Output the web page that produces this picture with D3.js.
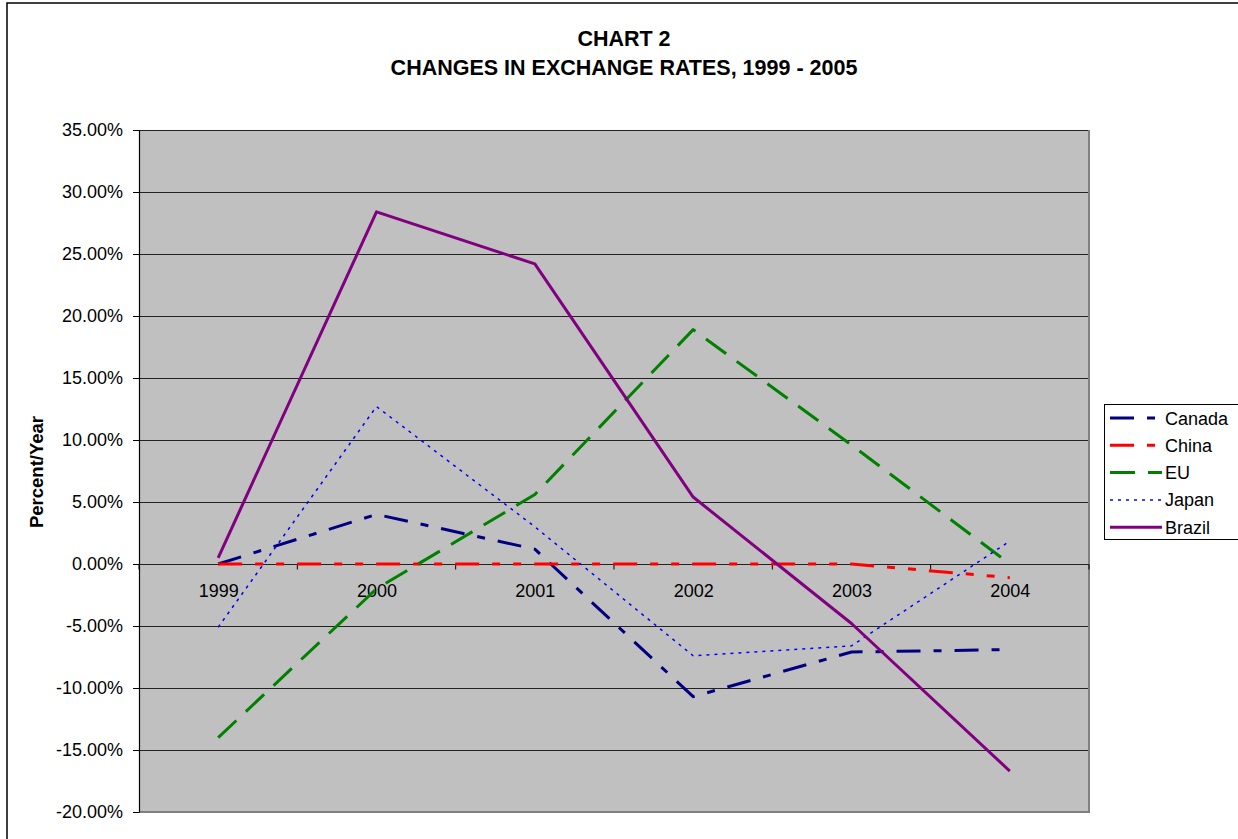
<!DOCTYPE html>
<html>
<head>
<meta charset="utf-8">
<script src="https://cdn.jsdelivr.net/npm/d3@7"></script>
<style>
  body { margin: 0; background: #fff; }
  svg text { font-family: "Liberation Sans", Arial, sans-serif; }
</style>
</head>
<body>
<svg id="chart"></svg>
<script>
var years = ["1999", "2000", "2001", "2002", "2003", "2004"];
var canada = [0.000, 0.040, 0.012, -0.107, -0.071, -0.069];
var china = [0.000, 0.000, 0.000, 0.000, 0.000, -0.011];
var eu = [-0.140, -0.020, 0.056, 0.189, 0.096, 0.000];
var japan = [-0.051, 0.127, 0.030, -0.074, -0.066, 0.0185];
var brazil = [0.005, 0.284, 0.242, 0.054, -0.048, -0.167];
var yTicks = [-0.20, -0.15, -0.10, -0.05, 0, 0.05, 0.10, 0.15, 0.20, 0.25, 0.30, 0.35];

var series = [
  {name: "Canada", values: canada, color: "#000080", width: 3, dash: "24,13,8,13"},
  {name: "China", values: china, color: "#FF0000", width: 3, dash: "24,13,8,13,8,13"},
  {name: "EU", values: eu, color: "#008000", width: 3, dash: "25,13"},
  {name: "Japan", values: japan, color: "#0000FF", width: 1.5, dash: "3,5"},
  {name: "Brazil", values: brazil, color: "#800080", width: 3, dash: null}
];

var screen = {width: 1238, height: 839};
var plotBox = {left: 139, right: 1089, top: 130, bottom: 812};

var svg = d3.select("#chart")
            .attr("width", screen.width)
            .attr("height", screen.height);

// outer chart border
svg.append("rect")
   .attr("x", 7).attr("y", 3)
   .attr("width", 1250).attr("height", 860)
   .attr("fill", "#fff")
   .attr("stroke", "#000")
   .attr("stroke-width", 1.5);

var xBand = d3.scaleBand()
              .domain(years)
              .range([plotBox.left, plotBox.right]);
var xScale = d3.scalePoint()
               .domain(years)
               .range([plotBox.left, plotBox.right])
               .padding(0.5);
var yScale = d3.scaleLinear()
               .domain([-0.20, 0.35])
               .range([plotBox.bottom, plotBox.top]);

// plot area
svg.append("rect")
   .attr("x", plotBox.left).attr("y", plotBox.top)
   .attr("width", plotBox.right - plotBox.left)
   .attr("height", plotBox.bottom - plotBox.top)
   .attr("fill", "#C0C0C0");

// gridlines
svg.append("g")
   .selectAll("line")
   .data(yTicks)
   .enter()
   .append("line")
   .attr("x1", plotBox.left).attr("x2", plotBox.right)
   .attr("y1", function(d){ return Math.round(yScale(d)) + 0.5; })
   .attr("y2", function(d){ return Math.round(yScale(d)) + 0.5; })
   .attr("stroke", "#222")
   .attr("stroke-width", 1.2);

// gray frame right / bottom
svg.append("path")
   .attr("d", "M" + plotBox.right + "," + plotBox.top + "V" + plotBox.bottom + "H" + plotBox.left)
   .attr("fill", "none")
   .attr("stroke", "#808080")
   .attr("stroke-width", 2);

// y axis (plain hyphen for negatives, like the original)
var pct = d3.formatLocale({decimal: ".", thousands: ",", grouping: [3], currency: ["$", ""], minus: "-"}).format(".2%");
var yAxis = d3.axisLeft(yScale)
              .tickValues(yTicks)
              .tickFormat(pct)
              .tickSize(6)
              .tickSizeOuter(0);
var gy = svg.append("g")
   .attr("transform", "translate(" + plotBox.left + ",0)")
   .call(yAxis);
gy.select(".domain").attr("stroke", "#000").attr("stroke-width", 1.2);
gy.selectAll(".tick line").attr("stroke", "#000");
gy.selectAll(".tick text")
  .attr("x", -16)
  .attr("font-size", 18)
  .attr("fill", "#000");

// x axis on the zero line
var y0 = Math.round(yScale(0)) + 0.5;
svg.append("line")
   .attr("x1", plotBox.left).attr("x2", plotBox.right)
   .attr("y1", y0).attr("y2", y0)
   .attr("stroke", "#222")
   .attr("stroke-width", 1.2);
var boundaries = years.map(function(d){ return xBand(d); }).concat([plotBox.right]);
svg.append("g")
   .selectAll("line")
   .data(boundaries)
   .enter()
   .append("line")
   .attr("x1", function(d){ return d; })
   .attr("x2", function(d){ return d; })
   .attr("y1", y0).attr("y2", y0 + 5)
   .attr("stroke", "#000");

var xAxis = d3.axisBottom(xScale).tickSize(0);
var gx = svg.append("g")
   .attr("transform", "translate(0," + y0 + ")")
   .call(xAxis);
gx.select(".domain").remove();
gx.selectAll(".tick text")
  .attr("y", 20)
  .attr("font-size", 18)
  .attr("fill", "#000");

// series lines
var line = d3.line()
             .x(function(d, i){ return xScale(years[i]); })
             .y(function(d){ return yScale(d); });

svg.append("g")
   .selectAll("path")
   .data(series)
   .enter()
   .append("path")
   .attr("d", function(s){ return line(s.values); })
   .attr("fill", "none")
   .attr("stroke", function(s){ return s.color; })
   .attr("stroke-width", function(s){ return s.width; })
   .attr("stroke-dasharray", function(s){ return s.dash; })
   .attr("stroke-linejoin", "round");

// titles
svg.append("text")
   .attr("x", 624).attr("y", 46)
   .attr("text-anchor", "middle")
   .attr("font-size", 21.5)
   .attr("font-weight", "bold")
   .text("CHART 2");
svg.append("text")
   .attr("x", 624).attr("y", 74.5)
   .attr("text-anchor", "middle")
   .attr("font-size", 21.5)
   .attr("font-weight", "bold")
   .text("CHANGES IN EXCHANGE RATES, 1999 - 2005");

svg.append("text")
   .attr("transform", "translate(43,472) rotate(-90)")
   .attr("text-anchor", "middle")
   .attr("font-size", 18.5)
   .attr("font-weight", "bold")
   .text("Percent/Year");

// legend
var legend = svg.append("g");
legend.append("rect")
      .attr("x", 1104.5).attr("y", 404.5)
      .attr("width", 140).attr("height", 135)
      .attr("fill", "#fff")
      .attr("stroke", "#000")
      .attr("stroke-width", 1);
var items = legend.selectAll("g.item")
      .data(series)
      .enter()
      .append("g")
      .attr("class", "item")
      .attr("transform", function(d, i){ return "translate(0," + (418 + i * 27.3) + ")"; });
items.append("line")
     .attr("x1", 1110).attr("x2", 1162)
     .attr("y1", 0).attr("y2", 0)
     .attr("stroke", function(s){ return s.color; })
     .attr("stroke-width", function(s){ return s.width; })
     .attr("stroke-dasharray", function(s){ return s.dash; });
items.append("text")
     .attr("x", 1165).attr("y", 6.5)
     .attr("font-size", 18)
     .text(function(s){ return s.name; });
</script>
</body>
</html>
